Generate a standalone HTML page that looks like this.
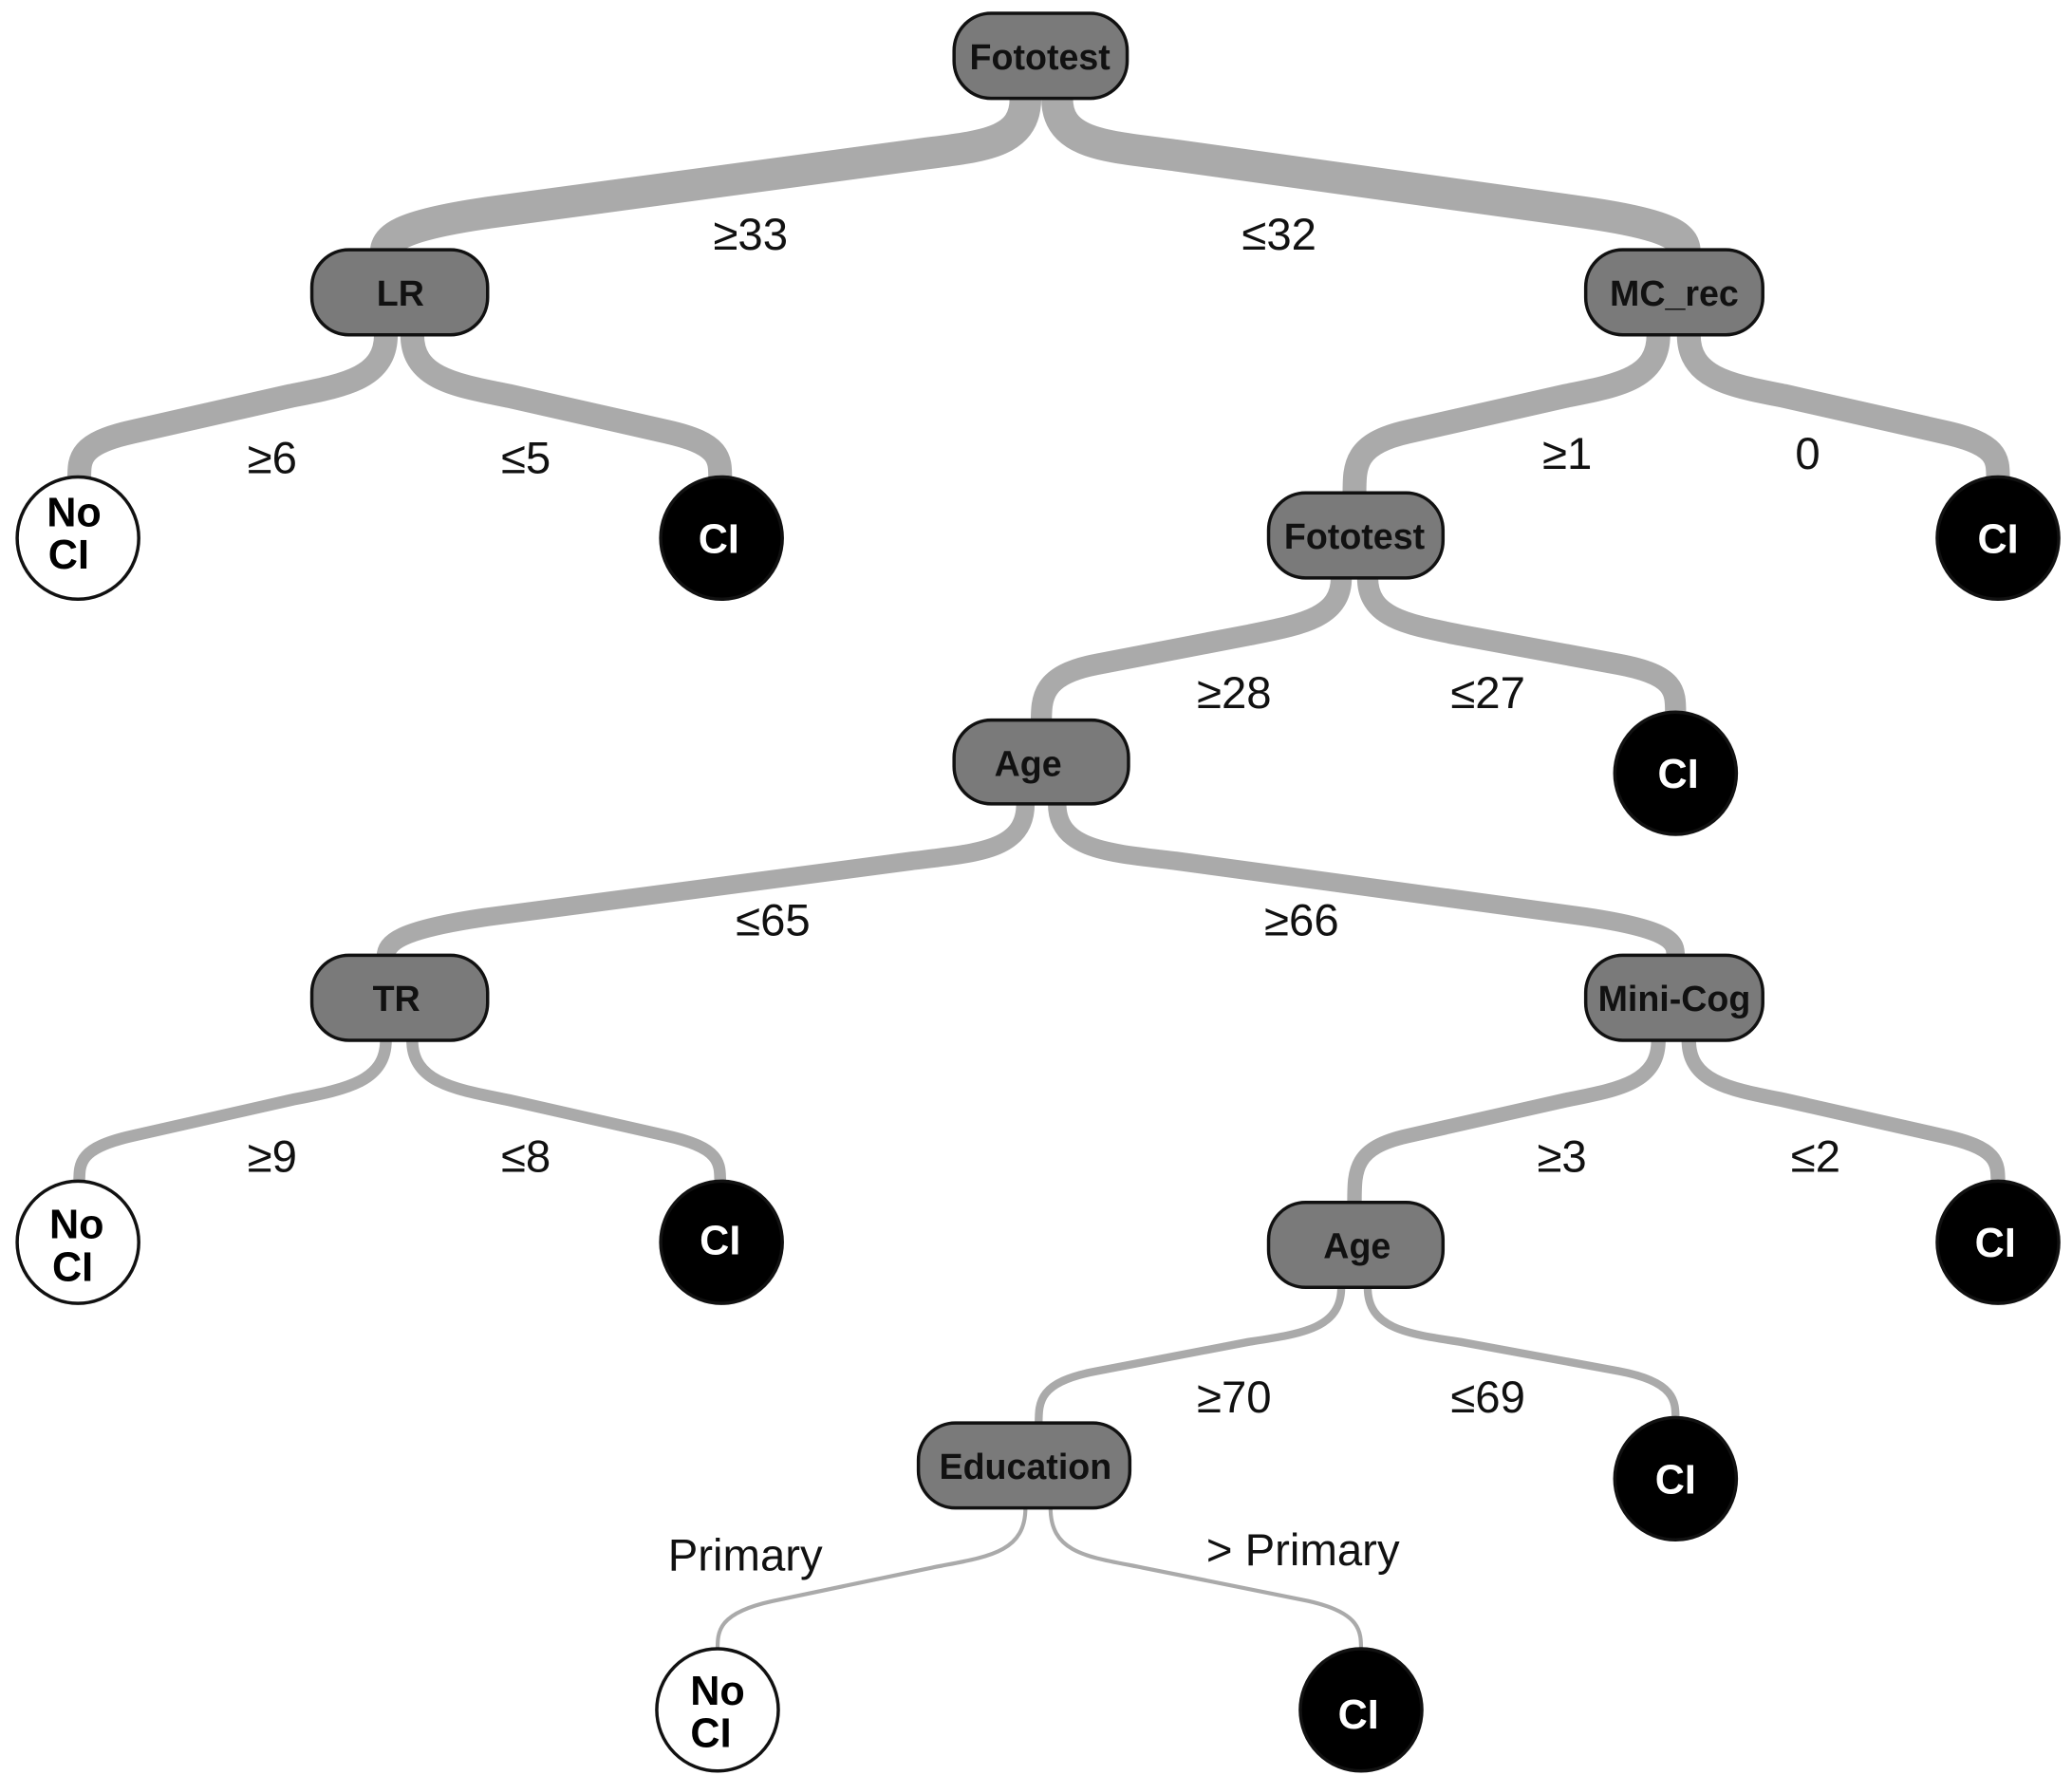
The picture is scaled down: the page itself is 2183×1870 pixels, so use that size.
<!DOCTYPE html>
<html><head><meta charset="utf-8"><style>
html,body{margin:0;padding:0;background:#fff;}
svg{display:block;}
text{font-family:"Liberation Sans",sans-serif;}
.n{font-weight:bold;font-size:27px;fill:#111;text-anchor:middle;}
.l{font-size:34px;fill:#111;text-anchor:middle;}
.cw{font-weight:bold;font-size:31px;fill:#fff;text-anchor:middle;}
.cb{font-weight:bold;font-size:31px;fill:#000;text-anchor:middle;}
path{fill:none;stroke:#aaaaaa;stroke-linecap:butt;}
</style></head><body>
<svg width="2183" height="1870" viewBox="0 0 1568 1336" preserveAspectRatio="none" xmlns="http://www.w3.org/2000/svg">
<!-- edges -->
<path stroke-width="24" d="M776,74 C776,110 740,110 690,117 L370,160 C300,170 292,180 292,190"/>
<path stroke-width="24" d="M800,74 C800,110 840,110 890,117 L1200,160 C1270,170 1275,180 1275,190"/>
<path stroke-width="18" d="M292,252 C292,285 260,290 220,298 L100,325 C60,334 60,345 60,360"/>
<path stroke-width="18" d="M312,252 C312,285 345,290 385,298 L505,325 C545,334 545,345 545,360"/>
<path stroke-width="18" d="M1255,252 C1255,285 1225,290 1185,298 L1065,325 C1025,334 1025,350 1025,372"/>
<path stroke-width="18" d="M1278,252 C1278,285 1310,290 1350,298 L1470,325 C1512,334 1512,345 1512,360"/>
<path stroke-width="16" d="M1015,435 C1015,465 985,470 945,478 L830,500 C788,508 788,525 788,545"/>
<path stroke-width="16" d="M1035,435 C1035,465 1065,470 1105,478 L1225,500 C1268,508 1268,520 1268,537"/>
<path stroke-width="14" d="M776,605 C776,640 740,642 690,648 L370,690 C300,700 292,710 292,720"/>
<path stroke-width="14" d="M800,605 C800,640 840,642 890,648 L1200,690 C1268,700 1268,710 1268,720"/>
<path stroke-width="9" d="M292,783 C292,815 260,820 220,828 L100,855 C60,864 60,875 60,890"/>
<path stroke-width="9" d="M312,783 C312,815 345,820 385,828 L505,855 C545,864 545,875 545,890"/>
<path stroke-width="11" d="M1255,783 C1255,815 1225,820 1185,828 L1065,855 C1025,864 1025,880 1025,905"/>
<path stroke-width="11" d="M1278,783 C1278,815 1310,820 1350,828 L1470,855 C1512,864 1512,875 1512,890"/>
<path stroke-width="6" d="M1015,969 C1015,1000 985,1004 945,1010 L830,1032 C786,1040 786,1055 786,1072"/>
<path stroke-width="6" d="M1035,969 C1035,1000 1065,1004 1105,1010 L1225,1032 C1268,1040 1268,1055 1268,1068"/>
<path stroke-width="3" d="M776,1135 C776,1170 745,1172 705,1180 L585,1205 C543,1214 543,1228 543,1242"/>
<path stroke-width="3" d="M795,1135 C795,1170 825,1172 865,1180 L990,1205 C1030,1214 1030,1228 1030,1242"/>
<!-- edge labels -->
<text class="l" x="568" y="188">≥33</text>
<text class="l" x="968" y="188">≤32</text>
<text class="l" x="206" y="356">≥6</text>
<text class="l" x="398" y="356">≤5</text>
<text class="l" x="1186" y="353">≥1</text>
<text class="l" x="1368" y="353">0</text>
<text class="l" x="934" y="533">≥28</text>
<text class="l" x="1126" y="533">≤27</text>
<text class="l" x="585" y="704">≤65</text>
<text class="l" x="985" y="704">≥66</text>
<text class="l" x="206" y="882">≥9</text>
<text class="l" x="398" y="882">≤8</text>
<text class="l" x="1182" y="882">≥3</text>
<text class="l" x="1374" y="882">≤2</text>
<text class="l" x="934" y="1063">≥70</text>
<text class="l" x="1126" y="1063">≤69</text>
<text class="l" x="564" y="1182">Primary</text>
<text class="l" x="986" y="1178">&gt; Primary</text>
<!-- decision nodes -->
<g fill="#7a7a7a" stroke="#111" stroke-width="2.5">
<rect x="722" y="10" width="131" height="64" rx="28"/>
<rect x="236" y="188" width="133" height="64" rx="28"/>
<rect x="1200" y="188" width="134" height="64" rx="28"/>
<rect x="960" y="371" width="132" height="64" rx="28"/>
<rect x="722" y="542" width="132" height="63" rx="28"/>
<rect x="236" y="719" width="133" height="64" rx="28"/>
<rect x="1200" y="719" width="134" height="64" rx="28"/>
<rect x="960" y="905" width="132" height="64" rx="28"/>
<rect x="695" y="1071" width="160" height="64" rx="28"/>
</g>
<text class="n" x="787" y="52">Fototest</text>
<text class="n" x="303" y="230">LR</text>
<text class="n" x="1267" y="230">MC_rec</text>
<text class="n" x="1025" y="413">Fototest</text>
<text class="n" x="778" y="584">Age</text>
<text class="n" x="300" y="761">TR</text>
<text class="n" x="1267" y="761">Mini-Cog</text>
<text class="n" x="1027" y="947">Age</text>
<text class="n" x="776" y="1113">Education</text>
<!-- leaves -->
<g stroke="#111" stroke-width="2.5">
<circle cx="59" cy="405" r="46" fill="#fff"/>
<circle cx="546" cy="405" r="46" fill="#000"/>
<circle cx="1512" cy="405" r="46" fill="#000"/>
<circle cx="1268" cy="582" r="46" fill="#000"/>
<circle cx="59" cy="935" r="46" fill="#fff"/>
<circle cx="546" cy="935" r="46" fill="#000"/>
<circle cx="1512" cy="935" r="46" fill="#000"/>
<circle cx="1268" cy="1113" r="46" fill="#000"/>
<circle cx="543" cy="1287" r="46" fill="#fff"/>
<circle cx="1030" cy="1287" r="46" fill="#000"/>
</g>
<text class="cb" x="56" y="396">No</text><text class="cb" x="52" y="428">CI</text>
<text class="cw" x="544" y="416">CI</text>
<text class="cw" x="1512" y="416">CI</text>
<text class="cw" x="1270" y="593">CI</text>
<text class="cb" x="58" y="932">No</text><text class="cb" x="55" y="964">CI</text>
<text class="cw" x="545" y="944">CI</text>
<text class="cw" x="1510" y="946">CI</text>
<text class="cw" x="1268" y="1124">CI</text>
<text class="cb" x="543" y="1283">No</text><text class="cb" x="538" y="1315">CI</text>
<text class="cw" x="1028" y="1301">CI</text>
</svg>
</body></html>
